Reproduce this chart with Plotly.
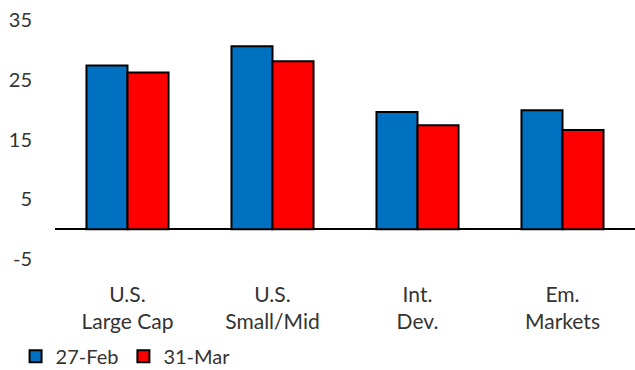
import plotly.graph_objects as go

categories = ["U.S.<br>Large Cap", "U.S.<br>Small/Mid", "Int.<br>Dev.", "Em.<br>Markets"]
feb_values = [27.4, 30.6, 19.6, 19.9]
mar_values = [26.2, 28.1, 17.4, 16.6]
y_ticks = [-5, 5, 15, 25, 35]
y_tick_text = ["-5", "5", "15", "25", "35"]

FONT = "Lato"
TEXT = "#333333"

fig = go.Figure()
fig.add_trace(go.Bar(
    x=categories, y=feb_values, name="27-Feb",
    marker=dict(color="#0070C0", line=dict(color="black", width=2)),
))
fig.add_trace(go.Bar(
    x=categories, y=mar_values, name="31-Mar",
    marker=dict(color="#FF0000", line=dict(color="black", width=2)),
))

fig.update_layout(
    width=635, height=370,
    margin=dict(l=55, r=0, t=20, b=111, autoexpand=False),
    paper_bgcolor="white", plot_bgcolor="white",
    barmode="group", bargap=0.434, bargroupgap=0,
    font=dict(family=FONT, size=20, color=TEXT),
    showlegend=True,
    legend=dict(
        orientation="h", x=-0.068, xanchor="left", y=-0.325, yanchor="top",
        font=dict(size=20, color=TEXT), itemwidth=30, tracegroupgap=0,
        bgcolor="rgba(0,0,0,0)",
    ),
)
fig.update_xaxes(
    showgrid=False, showline=False, ticks="", ticklabelstandoff=21,
    tickfont=dict(size=21, color=TEXT), automargin=False,
)
fig.update_yaxes(
    range=[-5, 35], tickvals=y_ticks, ticktext=y_tick_text,
    showgrid=False, showline=False,
    zeroline=True, zerolinecolor="black", zerolinewidth=2,
    ticks="", ticklabelstandoff=22, automargin=False,
    tickfont=dict(size=20, color=TEXT),
)

fig.write_html("out.html")
